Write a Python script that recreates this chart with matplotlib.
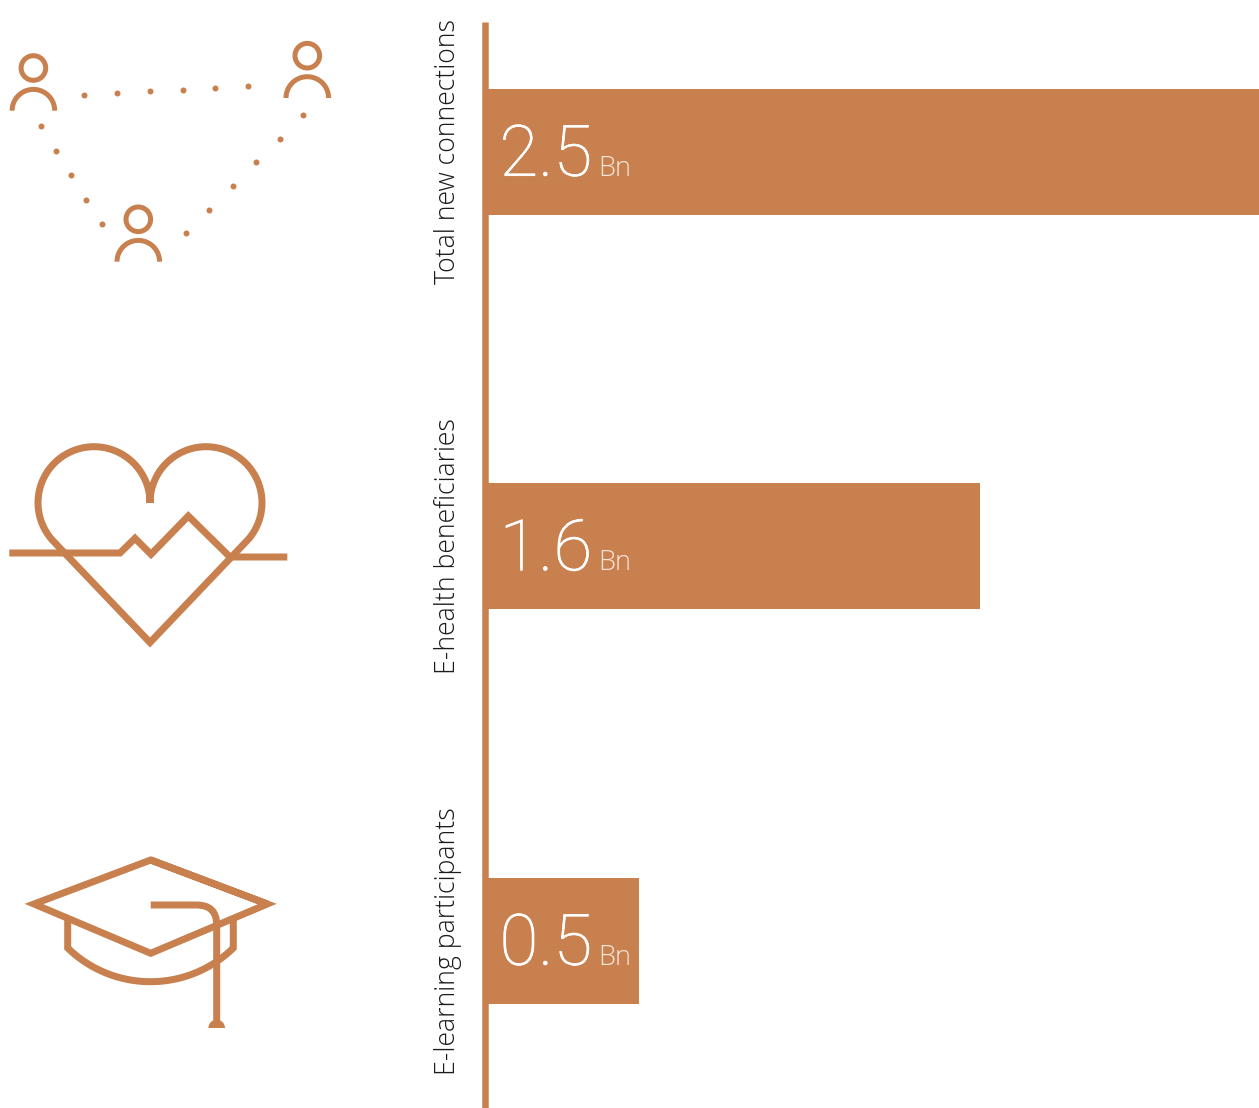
import numpy as np
import matplotlib
matplotlib.use("Agg")
import matplotlib.pyplot as plt
import matplotlib.patheffects as pe
from matplotlib.patches import Circle, PathPatch, Wedge
from matplotlib.path import Path

# Chart data
categories = ["Total new connections", "E-health beneficiaries", "E-learning participants"]
values = [2.5, 1.6, 0.5]
unit = "Bn"

COLOR = "#C8804F"
W, H = 1259, 1108
LW = 7.0 * 72 / 100  # main stroke width in points at 100 dpi
THIN = 5.0 * 72 / 100

fig = plt.figure(figsize=(W / 100, H / 100), dpi=100, facecolor="white")

# Bar panel: zero sits on the vertical rule, the longest bar reaches the right edge
x0 = 484.5
top, bottom = 22, 1108
ax = fig.add_axes([x0 / W, 1 - bottom / H, (W - x0) / W, (bottom - top) / H])
pitch = 394.5
first = 151.7
positions = np.arange(len(categories))
ax.set_ylim((bottom - first) / pitch, (top - first) / pitch)
ax.set_xlim(0, max(values))
ax.barh(positions, values, height=126 / pitch, color=COLOR, linewidth=0, clip_on=False)
for s in ("top", "right", "bottom"):
    ax.spines[s].set_visible(False)
ax.spines["left"].set_color(COLOR)
ax.spines["left"].set_linewidth(LW * 0.93)
ax.spines["left"].set_capstyle("butt")
ax.set_xticks([])
ax.set_yticks(positions)
ax.set_yticklabels(categories, rotation=90, va="center", ha="right", fontsize=19.2,
                   family="Open Sans", fontweight="light", color="#1a1a1a")
ax.tick_params(axis="y", length=0, pad=16.5)
ax.patch.set_alpha(0)

# Value labels: slightly thickened light numerals plus the unit
for p, v in zip(positions, values):
    ax.annotate(f"{v:.1f}", xy=(0, p), xytext=(15, -24), textcoords="offset pixels",
                color="white", fontsize=51, family="Roboto", fontweight="light",
                ha="left", va="baseline",
                path_effects=[pe.withStroke(linewidth=0.5, foreground="white")])
    ax.annotate(unit, xy=(0, p), xytext=(114, -24), textcoords="offset pixels",
                color="#F6E6DA", fontsize=19.5, family="Open Sans", fontweight="light",
                ha="left", va="baseline")

# Icon layer, drawn in figure pixels
ic = fig.add_axes([0, 0, 1, 1], zorder=-1)
ic.set_xlim(0, W)
ic.set_ylim(H, 0)
ic.axis("off")


def stroke(points, join="miter"):
    xs, ys = zip(*points)
    ic.plot(xs, ys, color=COLOR, lw=LW, solid_capstyle="butt", solid_joinstyle=join)


def person(hx, hy, base):
    ic.add_patch(Circle((hx, hy), 12.3, fill=False, ec=COLOR, lw=THIN))
    a = np.linspace(np.pi, 2 * np.pi, 60)
    ic.plot(hx + 21.3 * np.cos(a), base + 21.3 * np.sin(a), color=COLOR, lw=THIN,
            solid_capstyle="butt")


person(33.4, 68, 110.7)
person(307.3, 55.7, 98)
person(138.3, 219.3, 261.7)

dots_x = [84, 117, 149.7, 182.7, 215.3, 248.3, 41, 56.3, 71.3, 86.3, 101.7,
          303.3, 280, 256.3, 233, 209.3, 185.7]
dots_y = [95, 93, 91.3, 89.7, 87.7, 86, 126.3, 150.7, 175, 199.7, 224,
          115.3, 138.7, 162.3, 186, 209.7, 233]
ic.scatter(dots_x, dots_y, s=(6 * 0.72) ** 2, color=COLOR, linewidths=0)

# Heart outline with pulse line
r = 56
a1 = np.radians(np.linspace(0, -222, 120))
left = np.column_stack([94 + r * np.cos(a1), 502.7 + r * np.sin(a1)])
a2 = np.radians(np.linspace(180, 402, 120))
right = np.column_stack([206 + r * np.cos(a2), 502.7 + r * np.sin(a2)])
tip = (150, 642.5)
stroke([(150, 500.7)] + [tuple(q) for q in left] + [tip] + [tuple(q) for q in right[::-1]] + [(150, 500.7)])
stroke([(9.3, 553), (120, 553), (135, 538.3), (151, 554.3), (188.3, 516), (230, 557), (287.3, 557)])

# Mortarboard: board, cap band and tassel
stroke([(150.7, 860), (267.3, 904), (150.7, 953.3), (34, 904), (150.7, 860), (267.3, 904)])
R = 118.6
cy = 981.7 - R
half = np.arcsin(82.8 / R)
t = np.linspace(-half, half, 60)
band = np.column_stack([150.5 + R * np.sin(t), cy + R * np.cos(t)])
stroke([(67.7, 920)] + [tuple(q) for q in band] + [(233.3, 920)])
ic.add_patch(PathPatch(Path([(150.7, 905), (196.7, 905), (216.7, 905), (216.7, 925), (216.7, 1022)],
                            [Path.MOVETO, Path.LINETO, Path.CURVE3, Path.CURVE3, Path.LINETO]),
                       fill=False, ec=COLOR, lw=LW, capstyle="butt", joinstyle="miter"))
ic.add_patch(Wedge((216.7, 1028), 8.3, 180, 360, fc=COLOR, ec="none"))

fig.savefig("out.png", dpi=100, facecolor="white")
